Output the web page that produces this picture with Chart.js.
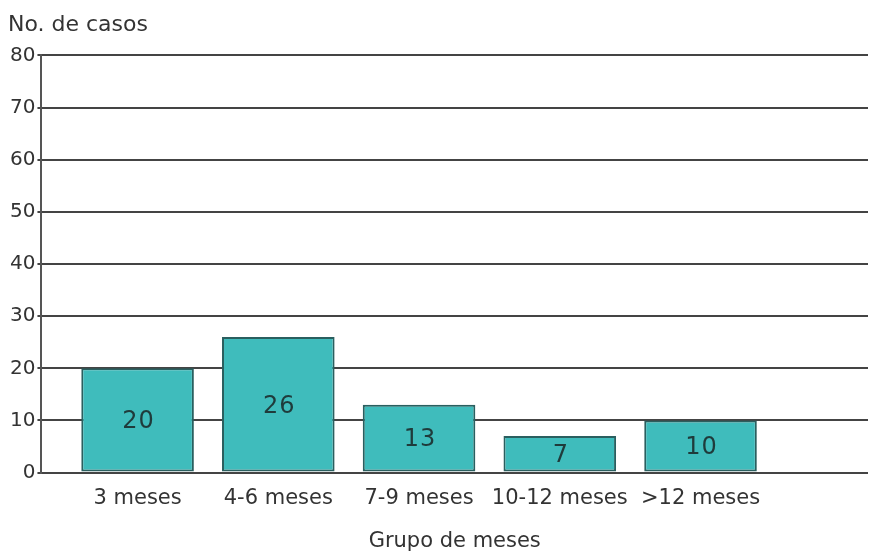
<!DOCTYPE html>
<html>
<head>
<meta charset="utf-8">
<script src="https://cdn.jsdelivr.net/npm/chart.js@4"></script>
<style>
    html, body { margin: 0; padding: 0; background: #fff; }
    #wrap { width: 871px; height: 554px; }
</style>
</head>
<body>
<div id="wrap"><canvas id="casosChart"></canvas></div>
<script>
    // Data
    const categorias = ['3 meses', '4-6 meses', '7-9 meses', '10-12 meses', '>12 meses'];
    const casos = [20, 26, 13, 7, 10];
    const yTicks = [0, 10, 20, 30, 40, 50, 60, 70, 80];

    const fontFamily = '"DejaVu Sans", Verdana, sans-serif';

    // Value labels drawn in the middle of each bar
    const valueLabels = {
        id: 'valueLabels',
        afterDatasetsDraw(chart) {
            const ctx = chart.ctx;
            const meta = chart.getDatasetMeta(0);
            ctx.save();
            ctx.font = '24px ' + fontFamily;
            ctx.letterSpacing = '1px';
            ctx.fillStyle = '#1f3b3b';
            ctx.textAlign = 'center';
            ctx.textBaseline = 'middle';
            meta.data.forEach(function(bar, i) {
                const mid = (bar.y + bar.base) / 2;
                ctx.fillText(String(casos[i]), bar.x + 1, mid + 2);
            });
            ctx.restore();
        }
    };

    const ctx = document.getElementById('casosChart').getContext('2d');
    new Chart(ctx, {
        type: 'bar',
        data: {
            datasets: [{
                data: casos.map(function(v, i) { return { x: i, y: v }; }),
                backgroundColor: '#3fbcbc',
                borderColor: '#2a5f5f',
                borderWidth: 2,
                borderSkipped: false,
                barPercentage: 0.8,
                categoryPercentage: 1
            }]
        },
        options: {
            responsive: true,
            maintainAspectRatio: false,
            animation: false,
            layout: { padding: { left: 8, right: 3, top: 0, bottom: 0 } },
            plugins: {
                legend: { display: false },
                tooltip: { enabled: false },
                title: {
                    display: true,
                    text: 'No. de casos',
                    align: 'start',
                    color: '#333',
                    font: { family: fontFamily, size: 22, weight: 'normal' },
                    padding: { top: 12, bottom: 17 }
                }
            },
            scales: {
                x: {
                    type: 'linear',
                    offset: false,
                    min: -0.683,
                    max: 5.19,
                    afterBuildTicks: function(scale) {
                        scale.ticks = categorias.map(function(c, i) { return { value: i }; });
                    },
                    ticks: {
                        callback: function(v) { return categorias[v]; },
                        color: '#333',
                        font: { family: fontFamily, size: 21 },
                        maxRotation: 0,
                        autoSkip: false,
                        padding: 13
                    },
                    grid: { display: false, drawTicks: false },
                    border: { display: false },
                    title: {
                        display: true,
                        text: 'Grupo de meses',
                        color: '#333',
                        font: { family: fontFamily, size: 21 },
                        padding: { top: 5, bottom: 0 }
                    }
                },
                y: {
                    min: 0,
                    max: 80,
                    afterBuildTicks: function(scale) {
                        scale.ticks = yTicks.map(function(v) { return { value: v }; });
                    },
                    ticks: {
                        color: '#333',
                        font: { family: fontFamily, size: 20 },
                        padding: 2
                    },
                    grid: {
                        color: '#444',
                        lineWidth: 2,
                        tickLength: 4
                    },
                    border: { display: true, color: '#555', width: 2 }
                }
            }
        },
        plugins: [valueLabels]
    });
</script>
</body>
</html>
